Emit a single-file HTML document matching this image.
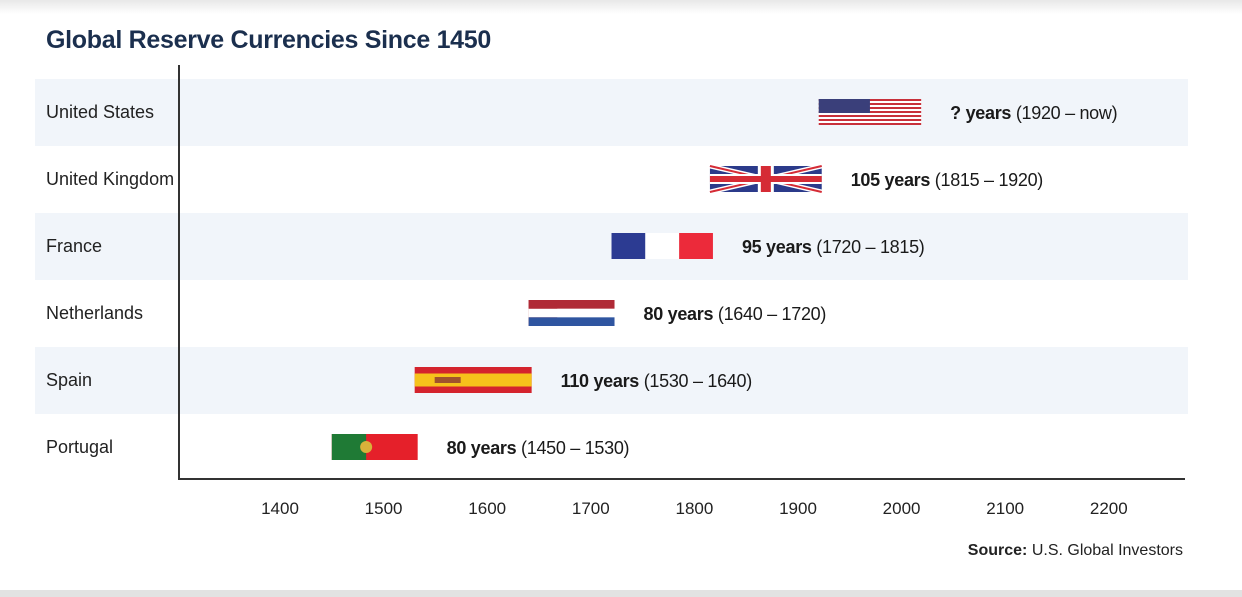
<!DOCTYPE html>
<html><head><meta charset="utf-8"><style>
body{margin:0;width:1242px;height:597px;background:#fff;overflow:hidden;font-family:"Liberation Sans",sans-serif}
#top{position:absolute;left:0;top:0;width:1242px;height:14px;background:linear-gradient(#e8e8e8,#fff)}
#bot{position:absolute;left:0;top:590px;width:1242px;height:7px;background:#e2e2e2}
</style></head><body>
<div id="top"></div>
<div id="bot"></div>
<svg id="chart" width="1242" height="597" style="position:absolute;left:0;top:0">
<text x="46" y="48" font-size="25" font-weight="bold" fill="#1b2f4e" letter-spacing="-0.3">Global Reserve Currencies Since 1450</text>
<g id="bands"></g><g id="bars"></g><g id="labels"></g><g id="axis"></g>
<text x="1183" y="555" font-size="16" text-anchor="end" fill="#222"><tspan font-weight="bold">Source:</tspan> U.S. Global Investors</text>
</svg>
<script>
const countries=["United States","United Kingdom","France","Netherlands","Spain","Portugal"];
const startYears=[1920,1815,1720,1640,1530,1450];
const endYears=[2016,1920,1815,1720,1640,1530];
const durationLabels=["? years","105 years","95 years","80 years","110 years","80 years"];
const rangeLabels=["(1920 – now)","(1815 – 1920)","(1720 – 1815)","(1640 – 1720)","(1530 – 1640)","(1450 – 1530)"];
const ticks=[1400,1500,1600,1700,1800,1900,2000,2100,2200];
const NS="http://www.w3.org/2000/svg";
const x=y=>280+(y-1400)*1.036;
const rowY=i=>79+i*67;
function mk(t,a,p){const e=document.createElementNS(NS,t);for(const k in a)e.setAttribute(k,a[k]);p.appendChild(e);return e;}
const bands=document.getElementById('bands'),bars=document.getElementById('bars'),labels=document.getElementById('labels'),axis=document.getElementById('axis');
function flag(i,g,x0,y0,w,h){
 const r=(a,b,c,d,f)=>mk('rect',{x:a,y:b,width:c,height:d,fill:f},g);
 if(i===0){r(x0,y0,w,h,'#fff');for(let k=0;k<13;k+=2)r(x0,y0+k*h/13,w,h/13,'#c8303a');r(x0,y0,w*0.5,h*7/13,'#3a3f7a');}
 else if(i===1){r(x0,y0,w,h,'#2b3a8a');mk('path',{d:`M${x0} ${y0}L${x0+w} ${y0+h}M${x0+w} ${y0}L${x0} ${y0+h}`,stroke:'#fff','stroke-width':5},g);mk('path',{d:`M${x0} ${y0}L${x0+w} ${y0+h}M${x0+w} ${y0}L${x0} ${y0+h}`,stroke:'#d52b35','stroke-width':2},g);r(x0,y0+h/2-5,w,10,'#fff');r(x0+w/2-8,y0,16,h,'#fff');r(x0,y0+h/2-3,w,6,'#d52b35');r(x0+w/2-5,y0,10,h,'#d52b35');}
 else if(i===2){r(x0,y0,w/3,h,'#2c3b92');r(x0+w/3,y0,w/3,h,'#fff');r(x0+2*w/3,y0,w/3,h,'#ec2a3a');}
 else if(i===3){r(x0,y0,w/3,h,'#b02a36');r(x0,y0+h/3,w,h/3,'#fff');r(x0,y0+2*h/3,w,h/3,'#2f55a0');r(x0,y0,w,h/3,'#b02a36');}
 else if(i===4){r(x0,y0,w,h,'#d4232d');r(x0,y0+h/4,w,h/2,'#f6c21b');r(x0+20,y0+h/2-3,26,6,'#a0522d');}
 else {r(x0,y0,w,h,'#e5202a');r(x0,y0,w*0.4,h,'#1f7a35');mk('circle',{cx:x0+w*0.4,cy:y0+h/2,r:6,fill:'#d8b23a'},g);}
}
countries.forEach((c,i)=>{
 const y0=rowY(i);
 if(i%2===0){const b=mk('rect',{x:35,y:y0,width:1153,height:67,fill:'#f1f5fa'},bands);
  
  }
 const t=mk('text',{x:46,y:y0+39,'font-size':18,fill:'#222'},labels);t.textContent=c;
 
 
 const g=mk('g',{},bars);
 
 
 const x0=x(startYears[i]),x1=x(endYears[i])+3;
 flag(i,g,x0,y0+20,x1-x0,26);
 const v=mk('text',{x:x1+29,y:y0+40,'font-size':18,fill:'#1a1a1a','letter-spacing':-0.3},labels);
 
 
 const s1=mk('tspan',{'font-weight':'bold'},v);s1.textContent=durationLabels[i];
 const s2=mk('tspan',{},v);s2.textContent=' '+rangeLabels[i];
});
const ya=mk('line',{x1:179,y1:65,x2:179,y2:479,stroke:'#333','stroke-width':2},axis);


const xa=mk('line',{x1:178,y1:479,x2:1185,y2:479,stroke:'#333','stroke-width':2},axis);


ticks.forEach(tk=>{const t=mk('text',{x:x(tk),y:514,'font-size':17,'text-anchor':'middle',fill:'#222'},axis);t.textContent=tk;
 
 });
</script>
</body></html>
